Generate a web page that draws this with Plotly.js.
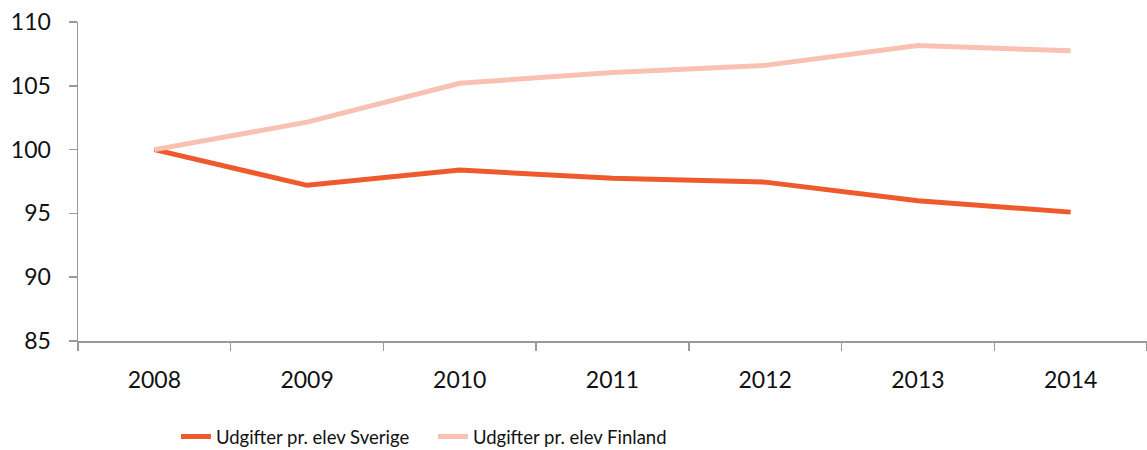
<!DOCTYPE html>
<html><head><meta charset="utf-8">
<script src="https://cdn.plot.ly/plotly-3.0.1.min.js"></script>
<style>html,body{margin:0;padding:0;background:#fff}#chart{width:1147px;height:450px}</style>
</head><body><div id="chart"></div>
<script>
const years = ["2008","2009","2010","2011","2012","2013","2014"];
const sverige = [100, 97.2, 98.4, 97.75, 97.45, 96.0, 95.1];
const finland = [100, 102.15, 105.2, 106.05, 106.6, 108.15, 107.75];
const yTicks = [85, 90, 95, 100, 105, 110];

const FONT = "Lato, 'Noto Sans', sans-serif";
const traces = [
  {x: years, y: sverige, name: "Udgifter pr. elev Sverige", type: "scatter", mode: "lines",
   line: {color: "#EE5A2C", width: 5}},
  {x: years, y: finland, name: "Udgifter pr. elev Finland", type: "scatter", mode: "lines",
   line: {color: "#F8C1B2", width: 5}}
];
const layout = {
  width: 1147, height: 450,
  margin: {l: 78, r: 0, t: 22, b: 109, autoexpand: false},
  paper_bgcolor: "#fff", plot_bgcolor: "#fff",
  font: {family: FONT, color: "#111", size: 21},
  showlegend: true,
  legend: {orientation: "h", xref: "container", yref: "container",
           x: 0.1534, xanchor: "left", y: 0.029, yanchor: "middle",
           font: {family: FONT, size: 18.5, color: "#111"}, itemwidth: 30,
           entrywidth: 212, entrywidthmode: "pixels"},
  xaxis: {type: "category", range: [-0.5, 6.5], tickson: "boundaries", automargin: false,
          ticks: "outside", ticklen: 8, tickcolor: "#999", tickwidth: 1.5,
          showline: true, linecolor: "#999", linewidth: 1.5, showgrid: false, zeroline: false,
          ticklabelstandoff: 18, tickfont: {family: FONT, size: 23, color: "#111"}, fixedrange: true},
  yaxis: {range: [85, 110], tickvals: yTicks, ticktext: yTicks.map(String), automargin: false,
          ticks: "outside", ticklen: 8, tickcolor: "#999", tickwidth: 1.5,
          showline: true, linecolor: "#999", linewidth: 1.5, showgrid: false, zeroline: false,
          ticklabelstandoff: 13, tickfont: {family: FONT, size: 23, color: "#111"}, fixedrange: true}
};
Plotly.newPlot("chart", traces, layout, {displayModeBar: false, staticPlot: true});
</script></body></html>
